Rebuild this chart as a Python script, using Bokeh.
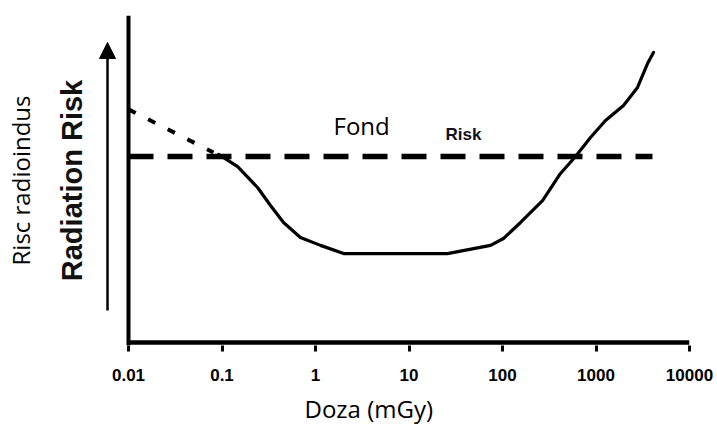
import math
from bokeh.plotting import figure
from bokeh.models import (Range1d, FixedTicker, CustomJSTickFormatter, Label,
                          Arrow, NormalHead, Span, LinearAxis, Title)
from bokeh.embed import file_html
from bokeh.resources import INLINE

# ---- data ----
TICKS = [0.01, 0.1, 1, 10, 100, 1000, 10000]
TICK_LABELS = ["0.01", "0.1", "1", "10", "100", "1000", "10000"]

# measured dose-response curve (relative risk units)
CURVE_DOSE = [0.092, 0.147, 0.24, 0.33, 0.455, 0.69, 1.13, 2.0, 25.8, 74.5,
              102.5, 156, 268, 417, 604, 873, 1264, 1968, 2780, 3556, 4121]
CURVE_RISK = [0.575, 0.538, 0.474, 0.419, 0.367, 0.321, 0.297, 0.272, 0.272, 0.297,
              0.318, 0.367, 0.434, 0.517, 0.569, 0.627, 0.679, 0.725, 0.780, 0.853, 0.887]

# linear extrapolation (dotted)
LNT_DOSE = [0.01, 0.081]
LNT_RISK = [0.713, 0.581]

# background risk level (dashed)
BG_DOSE = [0.01, 4018]
BG_RISK = [0.569, 0.569]

X_LABEL = "Doza (mGy)"
Y_LABEL_1 = "Risc radioindus"
Y_LABEL_2 = "Radiation Risk"
TEXT_FOND = "Fond"
TEXT_RISK = "Risk"

# ---- layout helpers (window pixel -> data) ----
AX_L, AX_R, AX_T, AX_B = 128, 689, 15, 342   # axis lines in window pixels
DEC = (AX_R - AX_L) / 6.0
FRAME_L, FRAME_B = 95, 345


def dx(px):
    return 10 ** (-2 + (px - AX_L) / DEC)


def dy(py):
    return (AX_B - py) / (AX_B - AX_T)


p = figure(width=717, height=431, x_axis_type="log",
           x_range=Range1d(dx(FRAME_L), 10000), y_range=Range1d(dy(FRAME_B), 1),
           output_backend="svg", toolbar_location=None,
           min_border_left=FRAME_L, min_border_right=717 - AX_R,
           min_border_top=AX_T, min_border_bottom=431 - FRAME_B)
p.outline_line_color = None
p.xgrid.visible = False
p.ygrid.visible = False
p.background_fill_color = "white"
p.border_fill_color = "white"

# x axis (ticks + labels from bokeh, line drawn at risk 0)
xa = p.xaxis[0]
xa.ticker = FixedTicker(ticks=TICKS, minor_ticks=[])
xa.formatter = CustomJSTickFormatter(args=dict(labels=TICK_LABELS),
                                     code="return labels[index]")
xa.axis_line_color = None
xa.major_tick_line_width = 3
xa.major_tick_line_color = "black"
xa.major_tick_out = 6
xa.major_tick_in = 0
xa.minor_tick_out = 0
xa.minor_tick_in = 0
xa.major_label_standoff = 17
xa.major_label_text_font = "Liberation Sans"
xa.major_label_text_font_style = "bold"
xa.major_label_text_font_size = "17px"
xa.major_label_text_line_height = 1.0
xa.major_label_text_color = "black"

# y axes: no line/ticks, only carry the two vertical labels
ya = p.yaxis[0]
ya.ticker = FixedTicker(ticks=[])
ya.axis_line_color = None
ya.major_tick_out = 0
ya.major_tick_in = 0
ya.minor_tick_out = 0
ya.minor_tick_in = 0
ya.major_label_text_alpha = 0
ya.axis_label = Y_LABEL_2
ya.axis_label_text_font = "Liberation Sans"
ya.axis_label_text_font_style = "bold"
ya.axis_label_text_font_size = "29px"
ya.axis_label_text_color = "#111111"
ya.axis_label_standoff = 8

ya2 = LinearAxis(ticker=FixedTicker(ticks=[]), axis_line_color=None,
                 major_tick_out=0, major_tick_in=0, minor_tick_out=0, minor_tick_in=0,
                 major_label_text_alpha=0, axis_label=Y_LABEL_1,
                 axis_label_text_font="Open Sans", axis_label_text_font_style="normal",
                 axis_label_text_font_size="24px", axis_label_text_color="black",
                 axis_label_standoff=16)
p.add_layout(ya2, "left")

# axis lines
p.add_layout(Span(location=0.01, dimension="height", line_color="black", line_width=4))
p.line([0.01, 10000], [0, 0], line_color="black", line_width=4.5, line_cap="butt")

# lines
p.line(BG_DOSE, BG_RISK, line_color="black", line_width=5.5,
       line_dash="25 14", line_cap="butt")
p.line(LNT_DOSE, LNT_RISK, line_color="black", line_width=4,
       line_dash="8 14", line_cap="butt")
p.line(CURVE_DOSE, CURVE_RISK, line_color="black", line_width=3.2,
       line_join="round", line_cap="round")

# arrow on the left
p.add_layout(Arrow(end=NormalHead(size=16, fill_color="black", line_color="black"),
                   x_start=dx(107), y_start=dy(310), x_end=dx(107), y_end=dy(42),
                   line_width=2.5, line_color="black"))

# x label as a title below the axis
p.add_layout(Title(text=X_LABEL, align="left", offset=209, standoff=13,
                   text_font="Open Sans", text_font_style="normal",
                   text_font_size="24px", text_line_height=0.9,
                   text_color="black"), "below")

# texts inside the plot
p.add_layout(Label(x=dx(333), y=dy(125), text=TEXT_FOND,
                   text_align="left", text_baseline="alphabetic",
                   text_font="Open Sans", text_font_size="24px", text_color="black"))
p.add_layout(Label(x=dx(445), y=dy(134), text=TEXT_RISK,
                   text_align="left", text_baseline="alphabetic",
                   text_font="Liberation Sans", text_font_style="bold",
                   text_font_size="17px", text_color="#111122"))

open("out.html", "w").write(file_html(p, INLINE))
